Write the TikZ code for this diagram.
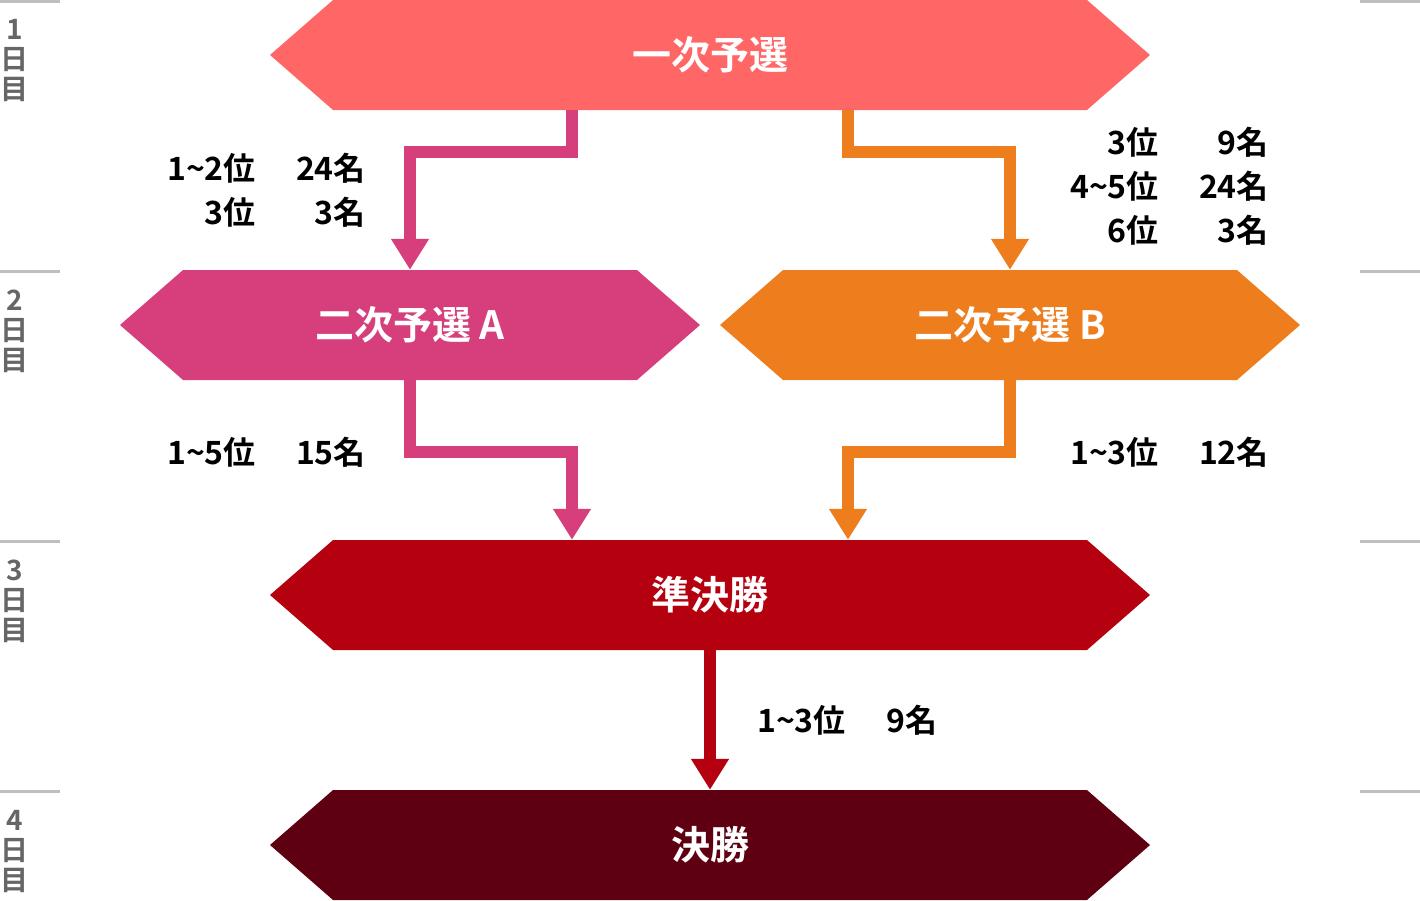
\documentclass[tikz,border=0pt]{standalone}
\usepackage{fontspec}
\setmainfont{Noto Sans CJK JP}[BoldFont={* Bold}]
\usetikzlibrary{shapes.symbols,arrows.meta}
\definecolor{yosenred}{HTML}{FF6666}
\definecolor{yosenpink}{HTML}{D63F7B}
\definecolor{yosenorange}{HTML}{EE7D1E}
\definecolor{junred}{HTML}{B4000F}
\definecolor{finalred}{HTML}{5E0011}
\definecolor{daygray}{HTML}{666666}
\definecolor{sepgray}{HTML}{BFBFBF}
\tikzset{
  stage/.style={signal, signal to=west and east, signal pointer angle=82.2,
    inner sep=0pt, minimum height=110pt, text=white,
    font=\fontsize{39}{40}\selectfont\bfseries},
  flow/.style={line width=12pt, -{Triangle[width=36pt,length=31pt]}},
  day/.style={align=center, inner sep=0pt, text=daygray,
    font=\fontsize{28}{30}\selectfont\bfseries},
  rank/.style={align=right, anchor=east, inner sep=0pt,
    font=\fontsize{32}{44}\selectfont\bfseries}
}
\newcommand{\nin}[2][110pt]{\makebox[#1][r]{#2}}

\begin{document}
\begin{tikzpicture}[x=1pt,y=-1pt]
 \useasboundingbox (0,0) rectangle (1420,900);
 % days
 \foreach \y in {1.5,271,541,791} {
   \draw[sepgray, line width=3pt] (0,\y) -- (60,\y);
   \draw[sepgray, line width=3pt] (1360,\y) -- (1420,\y);
 }
 \foreach \d/\y in {1/61,2/331,3/601,4/851}
   \node[day] (day\d) at (15,\y) {\d\\日\\目};

 % stages
 \node[stage, fill=yosenred, minimum width=880pt] (yosen1) at (710,55) {一次予選};
 \node[stage, fill=yosenpink, minimum width=580pt] (yosenA) at (410,325) {二次予選 A};
 \node[stage, fill=yosenorange, minimum width=580pt] (yosenB) at (1010,325) {二次予選 B};
 \node[stage, fill=junred, minimum width=880pt] (jun) at (710,595) {準決勝};
 \node[stage, fill=finalred, minimum width=880pt] (kessho) at (710,845) {決勝};

 % flows
 \draw[flow, yosenpink] ([xshift=-138pt]yosen1.south) -- ++(0,42) -| (yosenA.north);
 \draw[flow, yosenorange] ([xshift=138pt]yosen1.south) -- ++(0,42) -| (yosenB.north);
 \draw[flow, yosenpink] (yosenA.south) -- ++(0,72) -| ([xshift=-138pt]jun.north);
 \draw[flow, yosenorange] (yosenB.south) -- ++(0,72) -| ([xshift=138pt]jun.north);
 \draw[flow, junred] (jun.south) -- (kessho.north);

 % qualifiers
 \node[rank] (passA1) at (366,190) {1\textasciitilde2位\nin{24名}\\3位\nin{3名}};
 \node[rank] (passB1) at (1269,186) {3位\nin{9名}\\4\textasciitilde5位\nin{24名}\\6位\nin{3名}};
 \node[rank] (passA2) at (366,452) {1\textasciitilde5位\nin{15名}};
 \node[rank] (passB2) at (1269,452) {1\textasciitilde3位\nin{12名}};
 \node[rank] (passS) at (938,720) {1\textasciitilde3位\nin[92pt]{9名}};
\end{tikzpicture}
\end{document}
